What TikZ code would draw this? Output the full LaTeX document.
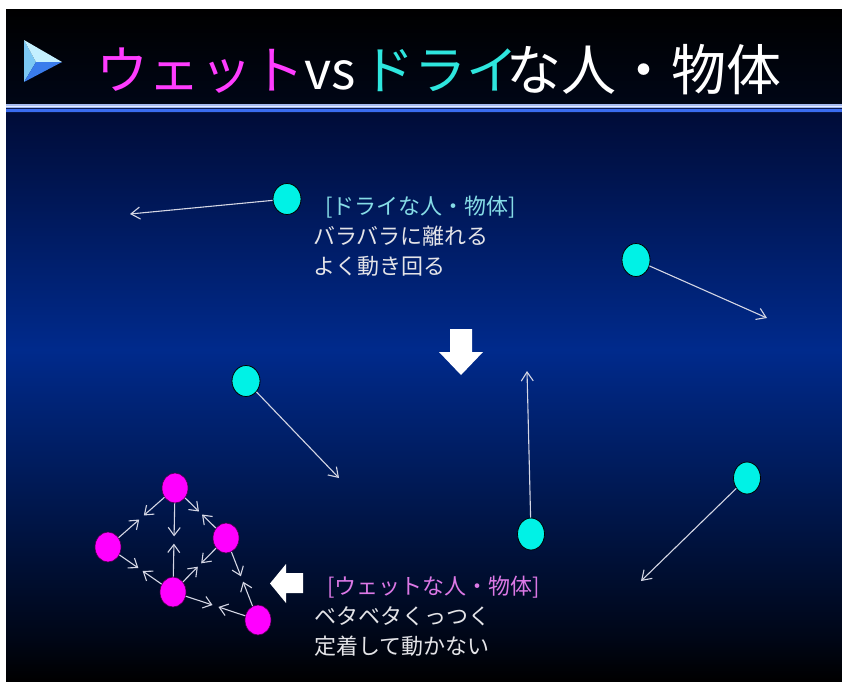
\documentclass[tikz,border=0pt]{standalone}
\usepackage{fontspec}
\setmainfont{Noto Sans CJK JP}
\usetikzlibrary{arrows.meta,shapes.geometric,calc}
\definecolor{ballcyan}{HTML}{00F2E6}
\definecolor{ballmag}{HTML}{FF00FF}
\definecolor{titlemag}{HTML}{FF3CFF}
\definecolor{titlecyan}{HTML}{2EE6DE}
\definecolor{drylabel}{HTML}{86DCE6}
\definecolor{wetlabel}{HTML}{DC78E6}
\definecolor{textgray}{HTML}{E4E4E8}
\definecolor{linegray}{HTML}{D4D6E4}
\definecolor{bgA}{HTML}{000C38}
\definecolor{bgB}{HTML}{002A8C}
\definecolor{bgC}{HTML}{000E40}
\definecolor{bgD}{HTML}{000616}
\definecolor{stripeA}{HTML}{A8BCF0}
\definecolor{stripeB}{HTML}{E4ECFF}
\definecolor{stripeC}{HTML}{9CB4F0}
\definecolor{stripeD}{HTML}{0A1A50}
\definecolor{stripeE}{HTML}{3A6CF0}
\definecolor{stripeF}{HTML}{081848}
\definecolor{iconA}{HTML}{7CC8F4}
\definecolor{iconB}{HTML}{C4F0FF}
\definecolor{iconC}{HTML}{3A7CEC}
\tikzset{
  dryball/.style={ellipse, draw=black, line width=0.8pt, fill=ballcyan, minimum width=28pt, minimum height=31pt, inner sep=0pt},
  wetball/.style={ellipse, draw=black!70!ballmag, line width=0.6pt, fill=ballmag, minimum width=26pt, minimum height=30pt, inner sep=0pt},
  thinarrow/.style={draw=linegray, line width=1.1pt, -{Straight Barb[length=9pt,width=12pt,line width=1.1pt]}},
  bondarrow/.style={draw=linegray, line width=1.1pt, -{Straight Barb[length=8pt,width=12pt,line width=1.1pt]}},
  bigarrow/.style={fill=white, draw=none},
  caption/.style={anchor=base west, inner sep=0pt, font=\fontsize{22}{26}\selectfont, text=textgray},
  titletext/.style={anchor=base west, inner sep=0pt, font=\fontsize{52}{60}\selectfont}
}
\newcommand\bondpair[2]{%
  \path (#1) -- (#2) coordinate[pos=0.45] (bma-#1-#2) coordinate[pos=0.55] (bmb-#1-#2);
  \draw[bondarrow] (#1) -- (bma-#1-#2);
  \draw[bondarrow] (#2) -- (bmb-#1-#2);}
\begin{document}
\begin{tikzpicture}[x=1pt,y=-1pt]
\useasboundingbox (0,0) rectangle (842,681);
% background
\fill[white] (0,0) rectangle (842,681);
\shade[top color=black, bottom color=bgD] (6,9) rectangle (842,104);
\fill[stripeA] (6,104) rectangle (842,105.5);
\fill[stripeB] (6,105.5) rectangle (842,107);
\fill[stripeC] (6,107) rectangle (842,108);
\fill[stripeD] (6,108) rectangle (842,109);
\fill[stripeE] (6,109) rectangle (842,112);
\fill[stripeF] (6,112) rectangle (842,113);
\shade[top color=bgA, bottom color=bgB] (6,113) rectangle (842,350);
\shade[top color=bgB, middle color=bgC, bottom color=bgD] (6,349.5) rectangle (842,640);
\shade[top color=bgD, bottom color=black] (6,639.5) rectangle (842,681);
% title icon
\fill[iconA] (24,40) -- (36,62) -- (24,82) -- cycle;
\fill[iconB] (24,40) -- (62,62) -- (36,62) -- cycle;
\fill[iconC] (36,62) -- (62,62) -- (24,82) -- cycle;
% title
\node[titletext, text=titlemag] (t1) at (96,89) {ウェット};
\node[titletext, text=white] (t2) at (304,89) {vs};
\node[titletext, text=titlecyan] (t3) at (362,89) {ドライ};
\node[titletext, text=white, font=\fontsize{55}{62}\selectfont] (t4) at (506,90) {な人・物体};
% dry balls
\node[dryball] (d1) at (287,199) {};
\node[dryball, minimum height=33pt] (d2) at (636,260) {};
\node[dryball] (d3) at (246,381) {};
\node[dryball, minimum width=27pt, minimum height=32pt] (d4) at (531,534) {};
\node[dryball, minimum width=27pt, minimum height=32pt] (d5) at (747,478) {};
\coordinate (e1) at (130,214);
\coordinate (e2) at (767,318);
\coordinate (e3) at (339,478);
\coordinate (e4) at (527,371);
\coordinate (e5) at (641,581);
\draw[thinarrow] (d1) -- (e1);
\draw[thinarrow] (d2) -- (e2);
\draw[thinarrow] (d3) -- (e3);
\draw[thinarrow] (d4) -- (e4);
\draw[thinarrow] (d5) -- (e5);
% wet balls
\node[wetball] (w1) at (175,488) {};
\node[wetball] (w2) at (108,547) {};
\node[wetball] (w3) at (226,538) {};
\node[wetball] (w4) at (173,592) {};
\node[wetball] (w5) at (258,620) {};
\bondpair{w1}{w2}
\bondpair{w1}{w4}
\bondpair{w1}{w3}
\bondpair{w2}{w4}
\bondpair{w3}{w4}
\bondpair{w3}{w5}
\bondpair{w4}{w5}
% big white arrows
\fill[bigarrow] (450,329) -- (472,329) -- (472,352) -- (483,352) -- (461,375) -- (439,352) -- (450,352) -- cycle;
\fill[bigarrow] (303,573) -- (303,593) -- (286,593) -- (286,603) -- (270,583.5) -- (286,564) -- (286,573) -- cycle;
% captions
\node[caption, text=drylabel] (dl) at (325,214) {[ドライな人・物体]};
\node[caption] (dl2) at (313,244) {バラバラに離れる};
\node[caption] (dl3) at (313,274) {よく動き回る};
\node[caption, text=wetlabel] (wl) at (327,594) {[ウェットな人・物体]};
\node[caption] (wl2) at (314,624) {ベタベタくっつく};
\node[caption] (wl3) at (314,654) {定着して動かない};
\end{tikzpicture}
\end{document}
